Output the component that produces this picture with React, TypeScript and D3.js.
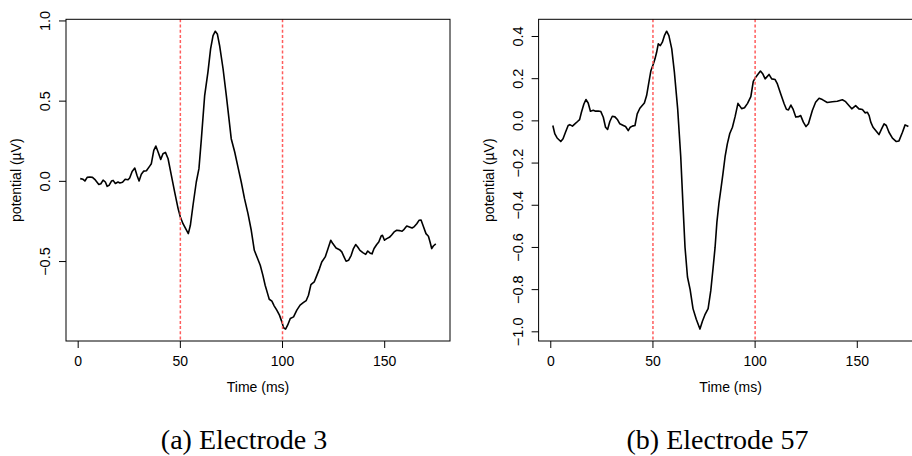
import React from "react";
import * as d3 from "d3";

// ---------- data ----------
const electrode3Time = [1, 2.4, 3.3, 4.4, 5.7, 7.0, 8.1, 10.1, 11.1, 12.2, 13.3, 14.2, 15.1, 16.3, 17.1, 18.2, 19.5, 20.4, 21.7, 23.0, 24.4, 25.2, 26.4, 27.7, 28.8, 29.8, 30.9, 32.1, 33.4, 35.0, 35.8, 37.0, 38.0, 39.1, 40.4, 41.5, 42.7, 44.0, 45.6, 47.2, 48.9, 50.0, 51.3, 52.6, 53.9, 54.9, 56.2, 57.8, 59.1, 60.3, 61.9, 63.5, 64.8, 66.0, 67.1, 68.1, 69.2, 70.9, 72.5, 73.8, 74.9, 76.6, 78.2, 79.8, 81.4, 83.1, 84.7, 86.2, 87.8, 89.1, 90.4, 91.5, 92.7, 93.5, 94.8, 95.9, 97.2, 98.5, 99.7, 100.5, 101.5, 102.5, 103.8, 105.4, 107.0, 108.6, 110.3, 111.6, 112.7, 113.9, 115.5, 116.8, 118.1, 119.2, 120.9, 122.0, 123.6, 124.6, 126.2, 127.9, 129.0, 130.1, 131.1, 132.3, 133.6, 134.7, 135.8, 136.8, 137.9, 139.3, 140.7, 141.7, 142.9, 143.8, 144.8, 146.1, 147.1, 148.3, 148.9, 149.9, 151.0, 152.3, 153.4, 154.6, 155.9, 157.2, 158.5, 159.5, 160.8, 162.1, 163.4, 164.5, 165.7, 166.8, 167.8, 168.9, 170.2, 171.4, 172.2, 173.0, 173.8, 175];
const electrode3Potential = [0.017, 0.0125, 0.002, 0.025, 0.027, 0.025, 0.0125, -0.019, -0.015, 0.008, -0.004, -0.031, -0.025, 0.002, 0.006, -0.013, -0.004, -0.010, -0.006, 0.013, 0.010, 0.021, 0.062, 0.083, 0.037, 0.002, 0.044, 0.064, 0.066, 0.095, 0.11, 0.193, 0.22, 0.183, 0.137, 0.172, 0.181, 0.141, 0.037, -0.066, -0.17, -0.222, -0.264, -0.295, -0.326, -0.274, -0.149, -0.004, 0.079, 0.266, 0.535, 0.681, 0.826, 0.909, 0.936, 0.919, 0.847, 0.702, 0.535, 0.39, 0.266, 0.183, 0.089, -0.004, -0.108, -0.201, -0.305, -0.43, -0.481, -0.523, -0.586, -0.648, -0.700, -0.735, -0.747, -0.776, -0.803, -0.834, -0.876, -0.913, -0.921, -0.897, -0.855, -0.845, -0.803, -0.772, -0.755, -0.743, -0.710, -0.644, -0.627, -0.586, -0.544, -0.503, -0.471, -0.430, -0.367, -0.388, -0.415, -0.426, -0.440, -0.471, -0.498, -0.492, -0.461, -0.419, -0.394, -0.409, -0.430, -0.444, -0.455, -0.434, -0.448, -0.452, -0.419, -0.394, -0.378, -0.340, -0.336, -0.367, -0.357, -0.349, -0.334, -0.315, -0.305, -0.307, -0.311, -0.299, -0.278, -0.284, -0.291, -0.282, -0.264, -0.243, -0.241, -0.280, -0.326, -0.342, -0.378, -0.419, -0.403, -0.390];

const electrode57Time = [1, 2.0, 3.1, 4.9, 6.0, 7.2, 8.5, 9.3, 10.6, 11.8, 13.1, 14.1, 15.0, 16.2, 17.2, 18.3, 19.4, 20.8, 21.9, 23.2, 24.5, 25.7, 26.8, 27.8, 28.9, 30.1, 31.4, 32.7, 33.8, 35.5, 36.6, 37.9, 38.9, 39.9, 41.2, 42.3, 43.6, 45.8, 46.9, 48.0, 49.0, 50.2, 51.0, 51.8, 52.6, 53.6, 54.6, 55.6, 56.7, 57.8, 59.2, 60.5, 62.1, 63.6, 64.7, 65.7, 66.9, 68.2, 69.6, 71.2, 73.0, 74.2, 75.4, 77.0, 78.3, 79.4, 80.4, 81.3, 82.3, 83.3, 84.2, 85.3, 86.4, 87.6, 88.9, 90.2, 91.6, 93.4, 94.8, 96.3, 97.9, 99.1, 100.3, 101.3, 102.6, 103.8, 104.9, 106.8, 108.1, 109.8, 110.9, 112.5, 114.2, 115.3, 116.3, 117.5, 118.5, 119.9, 121.2, 122.3, 123.6, 124.9, 126.1, 128.0, 129.6, 131.3, 132.9, 135.3, 137.8, 140.2, 142.7, 144.3, 146.0, 147.3, 149.2, 150.8, 152.5, 153.8, 154.9, 155.8, 156.6, 157.7, 159.0, 160.6, 161.9, 163.1, 164.2, 165.5, 167.2, 169.1, 170.4, 172.1, 173.4, 175];
const electrode57Potential = [-0.022, -0.062, -0.081, -0.098, -0.085, -0.054, -0.022, -0.018, -0.025, -0.014, -0.003, 0.006, 0.041, 0.080, 0.101, 0.085, 0.046, 0.050, 0.046, 0.047, 0.044, 0.017, -0.030, -0.041, -0.003, 0.022, 0.019, 0.005, -0.014, -0.022, -0.027, -0.046, -0.030, -0.025, -0.022, 0.033, 0.060, 0.085, 0.120, 0.183, 0.238, 0.270, 0.294, 0.325, 0.365, 0.357, 0.373, 0.404, 0.425, 0.404, 0.341, 0.230, 0.057, -0.170, -0.400, -0.600, -0.740, -0.800, -0.890, -0.940, -0.987, -0.950, -0.920, -0.890, -0.805, -0.700, -0.600, -0.480, -0.390, -0.320, -0.255, -0.170, -0.109, -0.060, -0.030, 0.020, 0.083, 0.058, 0.062, 0.083, 0.115, 0.187, 0.207, 0.220, 0.236, 0.222, 0.199, 0.220, 0.199, 0.196, 0.175, 0.128, 0.081, 0.055, 0.052, 0.075, 0.057, 0.018, 0.020, 0.025, -0.006, -0.027, -0.014, 0.049, 0.088, 0.107, 0.101, 0.087, 0.091, 0.093, 0.100, 0.091, 0.072, 0.057, 0.072, 0.057, 0.054, 0.038, 0.041, 0.025, -0.006, -0.030, -0.046, -0.065, -0.038, -0.014, -0.022, -0.054, -0.082, -0.098, -0.095, -0.054, -0.019, -0.027];

const xTicks = [0, 50, 100, 150];
const yTicksE3 = [-0.5, 0, 0.5, 1.0];
const yTicksE57 = [-1.0, -0.8, -0.6, -0.4, -0.2, 0, 0.2, 0.4];
const markerTimes = [50, 100];
const captions = ["(a) Electrode 3", "(b) Electrode 57"];
const xTitle = "Time (ms)";
const yTitle = "potential (\u00b5V)";

// ---------- layout ----------
const W = 912;
const H = 456;
const BOX_LEFT = 66;
const BOX_RIGHT = 450;
const BOX_TOP = 19.3;
const BOX_BOTTOM = 341;
const SANS = "'Liberation Sans', Arial, Helvetica, sans-serif";
const SERIF = "'Liberation Serif', 'Times New Roman', serif";

function pad(ext: [number, number]): [number, number] {
  const d = (ext[1] - ext[0]) * 0.04;
  return [ext[0] - d, ext[1] + d];
}

const fmt = (v: number) => d3.format(".1f")(v).replace("-", "\u2212");

type PanelProps = {
  times: number[];
  values: number[];
  yTicks: number[];
  dx: number;
  caption: string;
  captionX: number;
};

function Panel({ times, values, yTicks, dx, caption, captionX }: PanelProps) {
  const x = d3
    .scaleLinear()
    .domain(pad(d3.extent(times) as [number, number]))
    .range([BOX_LEFT + dx, BOX_RIGHT + dx]);
  const y = d3
    .scaleLinear()
    .domain(pad(d3.extent(values) as [number, number]))
    .range([BOX_BOTTOM, BOX_TOP]);
  const pts = times.map((t, i) => [t, values[i]] as [number, number]);
  const line = d3
    .line<[number, number]>()
    .x((d) => x(d[0]))
    .y((d) => y(d[1]))
    .curve(d3.curveLinear);
  const cx = (BOX_LEFT + BOX_RIGHT) / 2 + dx;
  const cy = (BOX_TOP + BOX_BOTTOM) / 2;
  return (
    <g>
      <path d={line(pts) || ""} fill="none" stroke="#000" strokeWidth={1.6} strokeLinejoin="round" />
      {markerTimes.map((m) => (
        <line
          key={m}
          x1={x(m)}
          x2={x(m)}
          y1={BOX_TOP}
          y2={BOX_BOTTOM}
          stroke="#ff5c5c"
          strokeWidth={1.5}
          strokeDasharray="3,2.2"
        />
      ))}
      <rect
        x={BOX_LEFT + dx}
        y={BOX_TOP}
        width={BOX_RIGHT - BOX_LEFT}
        height={BOX_BOTTOM - BOX_TOP}
        fill="none"
        stroke="#000"
        strokeWidth={1}
      />
      {xTicks.map((t) => (
        <g key={t}>
          <line x1={x(t)} x2={x(t)} y1={BOX_BOTTOM} y2={BOX_BOTTOM + 7} stroke="#000" strokeWidth={1} />
          <text x={x(t)} y={366} textAnchor="middle" fontFamily={SANS} fontSize={14}>
            {t}
          </text>
        </g>
      ))}
      {yTicks.map((v) => (
        <g key={v}>
          <line x1={BOX_LEFT + dx - 7} x2={BOX_LEFT + dx} y1={y(v)} y2={y(v)} stroke="#000" strokeWidth={1} />
          <text
            transform={`translate(${BOX_LEFT + dx - 16},${y(v)}) rotate(-90)`}
            textAnchor="middle"
            fontFamily={SANS}
            fontSize={14.5}
          >
            {fmt(v)}
          </text>
        </g>
      ))}
      <text x={cx} y={392} textAnchor="middle" fontFamily={SANS} fontSize={14}>
        {xTitle}
      </text>
      <text
        transform={`translate(${BOX_LEFT + dx - 45},${cy}) rotate(-90)`}
        textAnchor="middle"
        fontFamily={SANS}
        fontSize={14}
      >
        {yTitle}
      </text>
      <text x={captionX} y={449} textAnchor="middle" fontFamily={SERIF} fontSize={28}>
        {caption}
      </text>
    </g>
  );
}

export default function App() {
  return (
    <svg
      width={W}
      height={H}
      viewBox={`0 0 ${W} ${H}`}
      style={{ position: "absolute", left: 0, top: 0, background: "#fff" }}
    >
      <rect x={0} y={0} width={W} height={H} fill="#fff" />
      <Panel
        times={electrode3Time}
        values={electrode3Potential}
        yTicks={yTicksE3}
        dx={0}
        caption={captions[0]}
        captionX={244}
      />
      <Panel
        times={electrode57Time}
        values={electrode57Potential}
        yTicks={yTicksE57}
        dx={472.6}
        caption={captions[1]}
        captionX={717.5}
      />
    </svg>
  );
}
